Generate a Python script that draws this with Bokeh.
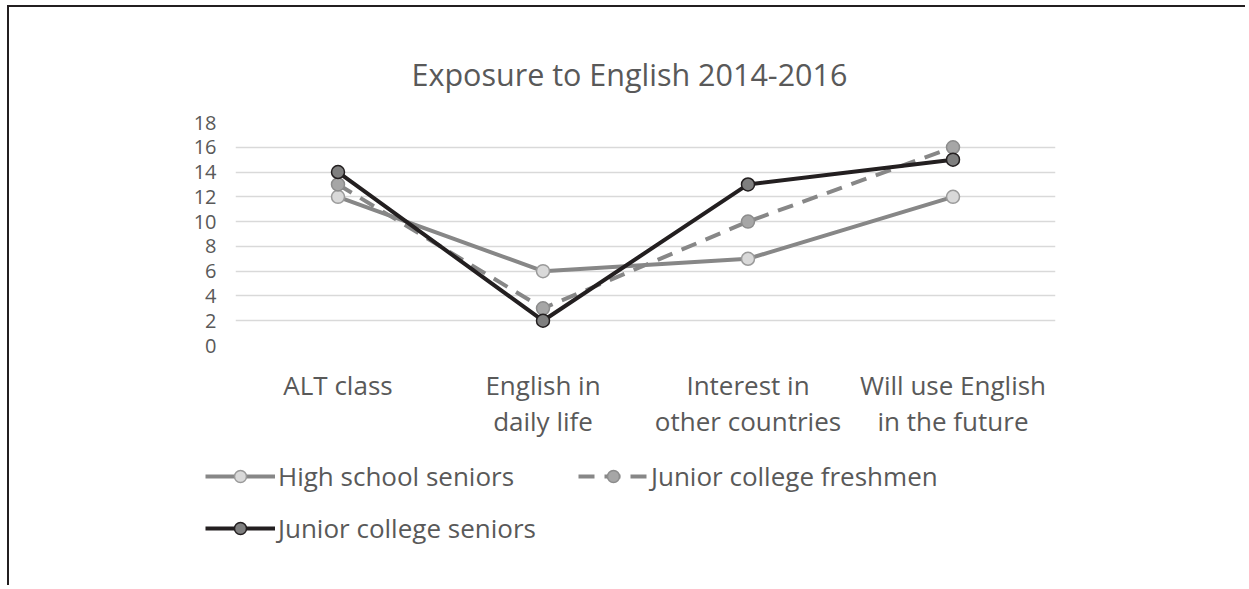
from bokeh.plotting import figure
from bokeh.models import FactorRange, Range1d, FixedTicker, Legend, LegendItem, ColumnDataSource
from bokeh.embed import file_html
from bokeh.resources import INLINE

categories = ["ALT class", "English in\ndaily life", "Interest in\nother countries", "Will use English\nin the future"]
series_names = ["High school seniors", "Junior college freshmen", "Junior college seniors"]
hs_seniors = [12, 6, 7, 12]
jc_freshmen = [13, 3, 10, 16]
jc_seniors = [14, 2, 13, 15]
y_ticks = [0, 2, 4, 6, 8, 10, 12, 14, 16, 18]

FONT = "Open Sans"
TEXT = "#595959"

p = figure(width=1238, height=448, x_range=FactorRange(*categories, range_padding=0),
           y_range=Range1d(0, 18), output_backend="svg", toolbar_location=None,
           min_border_left=226, min_border_right=192, min_border_top=115, min_border_bottom=110)
p.styles = {"border-top": "2px solid #231f20", "border-left": "2px solid #231f20",
            "margin-left": "7px", "margin-top": "5px"}
p.outline_line_color = None
p.background_fill_color = "white"
p.border_fill_color = "white"

p.title.text = "Exposure to English 2014-2016"
p.title.text_font = FONT
p.title.text_font_size = "30.5px"
p.title.text_font_style = "normal"
p.title.text_color = TEXT
p.title.align = "left"
p.title.offset = 176
p.title.standoff = 55

p.xgrid.grid_line_color = None
p.ygrid.grid_line_color = "#d9d9d9"
p.ygrid.grid_line_width = 1.5
p.yaxis.ticker = FixedTicker(ticks=y_ticks)

for ax in (p.xaxis, p.yaxis):
    ax.axis_line_color = None
    ax.major_tick_line_color = None
    ax.minor_tick_line_color = None
    ax.major_label_text_font = FONT
    ax.major_label_text_color = TEXT

p.yaxis.major_label_text_font_size = "20px"
p.yaxis.major_label_standoff = 13
p.xaxis.major_label_text_font_size = "26px"
p.xaxis.major_label_standoff = 15
p.xaxis.major_label_text_line_height = 1.0

styles = [
    dict(color="#878787", dash="solid", fill="#d9d9d9", mline="#9a9a9a"),
    dict(color="#878787", dash="16 10", fill="#a6a6a6", mline="#8c8c8c"),
    dict(color="#231f20", dash="solid", fill="#7f7f7f", mline="#231f20"),
]

# legend strip below the chart (its own canvas, data kept out of view)
p2 = figure(width=1238, height=132, x_range=FactorRange(*categories), y_range=Range1d(100, 101),
            output_backend="svg", toolbar_location=None, min_border=0)
p2.styles = {"border-left": "2px solid #231f20", "margin-left": "7px"}
p2.axis.visible = False
p2.grid.visible = False
p2.outline_line_color = None
p2.background_fill_color = "white"
p2.border_fill_color = "white"

items = []
for name, vals, st in zip(series_names, [hs_seniors, jc_freshmen, jc_seniors], styles):
    src = ColumnDataSource(dict(x=categories, y=vals))
    p.line("x", "y", source=src, line_color=st["color"], line_width=4, line_dash=st["dash"])
    p.scatter("x", "y", source=src, size=13, fill_color=st["fill"], line_color=st["mline"], line_width=1.5)
    ln2 = p2.line("x", "y", source=src, line_color=st["color"], line_width=4, line_dash=st["dash"])
    sc2 = p2.scatter("x", "y", source=src, size=13, fill_color=st["fill"], line_color=st["mline"], line_width=1.5)
    items.append(LegendItem(label=name, renderers=[ln2, sc2]))

legend = Legend(items=items, location=(196, 39), orientation="horizontal", ncols=2,
                border_line_color=None, background_fill_alpha=0, padding=0, margin=0,
                glyph_width=70, glyph_height=30, label_standoff=3, spacing=16, label_width=284,
                label_text_font=FONT, label_text_font_size="26px", label_text_color=TEXT)
p2.add_layout(legend, "center")

open("out.html", "w").write(file_html((p, p2), INLINE))
